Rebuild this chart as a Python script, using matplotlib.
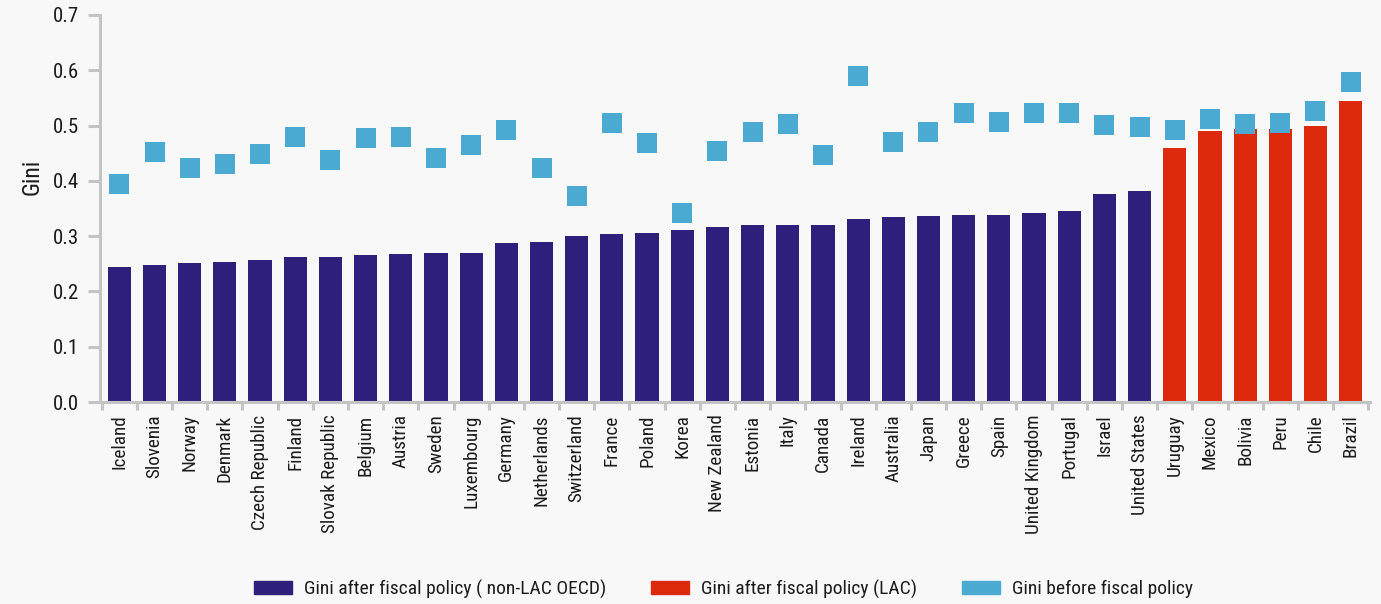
import matplotlib
matplotlib.use("Agg")
import matplotlib.pyplot as plt
from matplotlib.patches import Patch
from matplotlib import font_manager
import numpy as np

countries = ["Iceland", "Slovenia", "Norway", "Denmark", "Czech Republic", "Finland",
             "Slovak Republic", "Belgium", "Austria", "Sweden", "Luxembourg", "Germany",
             "Netherlands", "Switzerland", "France", "Poland", "Korea", "New Zealand",
             "Estonia", "Italy", "Canada", "Ireland", "Australia", "Japan", "Greece",
             "Spain", "United Kingdom", "Portugal", "Israel", "United States",
             "Uruguay", "Mexico", "Bolivia", "Peru", "Chile", "Brazil"]
gini_after = [0.245, 0.248, 0.251, 0.254, 0.257, 0.262, 0.262, 0.265, 0.268, 0.270,
              0.270, 0.287, 0.290, 0.301, 0.303, 0.306, 0.312, 0.317, 0.320, 0.320,
              0.320, 0.331, 0.334, 0.336, 0.339, 0.339, 0.342, 0.345, 0.376, 0.381,
              0.459, 0.490, 0.493, 0.493, 0.500, 0.545]
gini_before = [0.394, 0.453, 0.424, 0.430, 0.449, 0.480, 0.438, 0.478, 0.480, 0.442,
               0.464, 0.492, 0.424, 0.373, 0.504, 0.468, 0.341, 0.454, 0.488, 0.503,
               0.447, 0.590, 0.470, 0.488, 0.522, 0.507, 0.522, 0.522, 0.501, 0.498,
               0.492, 0.511, 0.503, 0.505, 0.526, 0.579]
is_lac = [False] * 30 + [True] * 6
y_ticks = [0.0, 0.1, 0.2, 0.3, 0.4, 0.5, 0.6, 0.7]
legend_labels = ["Gini after fiscal policy ( non-LAC OECD)",
                 "Gini after fiscal policy (LAC)",
                 "Gini before fiscal policy"]

NAVY = "#2f1f7c"
RED = "#dd2a0c"
CYAN = "#4aaad2"
GREY = "#c4c4c4"
BG = "#f8f8f8"
TXT = "#1c1c1c"

avail = {f.name for f in font_manager.fontManager.ttflist}
fams = [f for f in ["Liberation Sans Narrow", "Roboto Condensed", "Open Sans Condensed",
                    "Noto Sans", "DejaVu Sans"] if f in avail]
plt.rcParams["font.family"] = fams

fig = plt.figure(figsize=(13.81, 6.04), dpi=100, facecolor=BG)
ax = fig.add_axes([100 / 1381, 1 - 402 / 604, 1270 / 1381, 387 / 604])
ax.set_facecolor(BG)

x = np.arange(len(countries))
colors = [RED if l else NAVY for l in is_lac]
ax.bar(x, gini_after, width=0.66, color=colors, zorder=2)
ax.scatter(x, gini_before, marker="s", s=200, color=CYAN, zorder=3, linewidths=0)

ax.set_xlim(-0.55, len(countries) - 0.45)
ax.set_ylim(0, 0.7)
ax.set_yticks(y_ticks)
ax.set_yticklabels([f"{v:.1f}" for v in y_ticks], fontsize=15, color=TXT)

ax.set_xticks(x)
ax.set_xticklabels(countries, rotation=90, fontsize=13.8, color=TXT,
                   va="top", ha="center")
ax.tick_params(axis="x", which="major", length=0, pad=9)
ax.set_xticks(np.arange(-0.5, len(countries), 1.0), minor=True)
ax.tick_params(axis="x", which="minor", length=6, width=2.2, color=GREY, direction="out")
ax.tick_params(axis="y", length=9, width=2.2, color=GREY, direction="out", pad=6)

for s in ["top", "right"]:
    ax.spines[s].set_visible(False)
for s in ["left", "bottom"]:
    ax.spines[s].set_color(GREY)
    ax.spines[s].set_linewidth(2.2)

fig.text(32 / 1381, 1 - 177 / 604, "Gini", rotation=90, ha="center", va="center",
         fontsize=17, color=TXT)

handles = [Patch(color=NAVY), Patch(color=RED), Patch(color=CYAN)]
fig.legend(handles, legend_labels, loc="center", bbox_to_anchor=(723.5 / 1381, 1 - 589 / 604),
           ncol=3, frameon=False, fontsize=14, handlelength=1.95, handleheight=0.62,
           columnspacing=2.3, handletextpad=0.62, labelcolor=TXT)

fig.savefig("out.png", dpi=100, facecolor=BG)
